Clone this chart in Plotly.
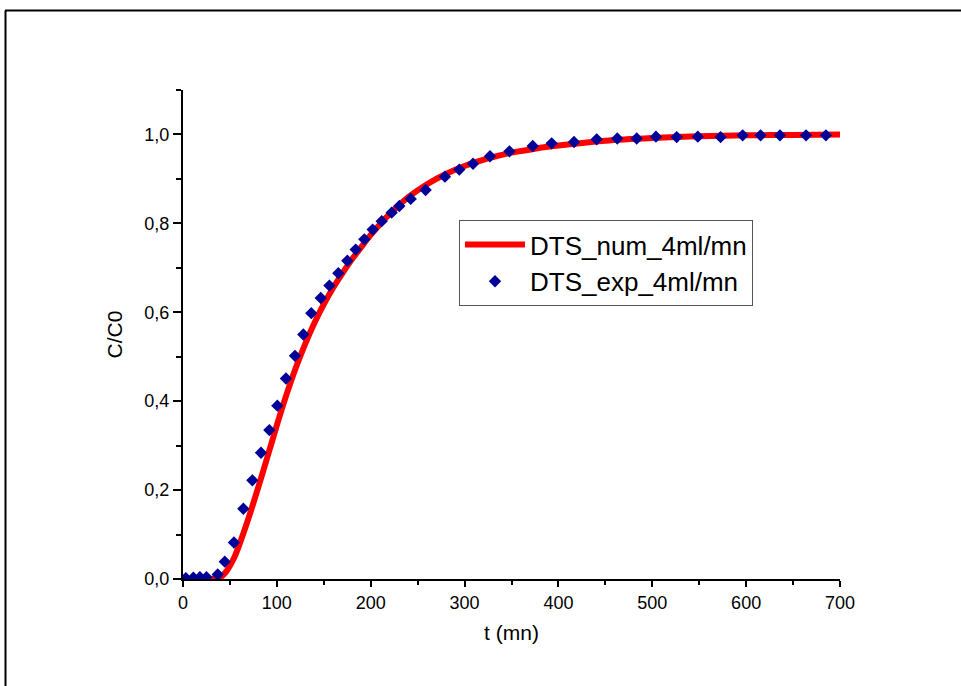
import plotly.graph_objects as go

# Numerical RTD curve
t_num = [30, 35, 40, 45, 50, 55, 60, 65, 70, 75, 80, 90, 100, 110, 120, 130, 140,
         150, 160, 170, 180, 190, 200, 220, 240, 260, 280, 300, 325, 350, 375,
         400, 450, 500, 550, 600, 650, 700]
c_num = [0.0, 0.001, 0.004, 0.014, 0.03, 0.05, 0.077, 0.107, 0.138, 0.171, 0.205,
         0.275, 0.346, 0.413, 0.474, 0.528, 0.576, 0.618, 0.655, 0.688, 0.719,
         0.747, 0.774, 0.821, 0.859, 0.888, 0.911, 0.929, 0.946, 0.959, 0.968,
         0.975, 0.986, 0.992, 0.996, 0.998, 0.999, 1.0]

t_exp = [3, 11, 18, 25, 37, 44.5, 54.3, 64.3, 73.9, 83.1, 92, 100.5, 109.7, 119.3,
         128.2, 136.7, 146.8, 156, 165.5, 175.1, 184, 193.2, 202.1, 211.7, 222.3,
         230.5, 242.6, 258.5, 279.1, 294.4, 309, 327.1, 347.8, 372.6, 392.8, 416.6,
         440.8, 462.7, 483.4, 503.9, 526, 548.5, 572.8, 596.3, 615.4, 636, 663.8, 685]
c_exp = [0.002, 0.003, 0.004, 0.004, 0.01, 0.039, 0.082, 0.158, 0.222, 0.284, 0.335,
         0.39, 0.451, 0.502, 0.55, 0.598, 0.632, 0.66, 0.688, 0.716, 0.741, 0.764,
         0.786, 0.805, 0.824, 0.839, 0.855, 0.875, 0.905, 0.921, 0.934, 0.951, 0.962,
         0.974, 0.98, 0.983, 0.989, 0.991, 0.991, 0.995, 0.994, 0.995, 0.994, 0.998,
         0.998, 0.998, 0.998, 0.998]

num_name = "DTS_num_4ml/mn"
exp_name = "DTS_exp_4ml/mn"
x_title = "t (mn)"
y_title = "C/C0"

sans = "Liberation Sans, Arial, sans-serif"

fig = go.Figure()
fig.add_trace(go.Scatter(x=t_num, y=c_num, mode="lines", name=num_name,
                         line=dict(color="#FF0000", width=6, shape="spline",
                                   smoothing=0.8)))
fig.add_trace(go.Scatter(x=t_exp, y=c_exp, mode="markers", name=exp_name,
                         marker=dict(symbol="diamond", size=9.5, color="#000099",
                                     line=dict(width=0))))

W, H = 961, 686
L, R, T, B = 183, 121, 90, 107
pw, ph = W - L - R, H - T - B

def px(xp):
    return (xp - L) / pw

def py(yp):
    return (H - B - yp) / ph

fig.update_layout(
    width=W, height=H,
    margin=dict(l=L, r=R, t=T, b=B),
    paper_bgcolor="white", plot_bgcolor="white",
    separators=", ",
    showlegend=True,
    legend=dict(x=px(459), y=py(220), xanchor="left", yanchor="top",
                bgcolor="white", bordercolor="#555555", borderwidth=1,
                font=dict(family=sans, size=26, color="black"),
                itemwidth=60),
    xaxis=dict(range=[0, 700], dtick=100, tick0=0, showgrid=False, zeroline=False,
               showline=True, linecolor="black", linewidth=2,
               ticks="outside", ticklen=6, tickwidth=2, tickcolor="black",
               minor=dict(dtick=50, ticks="outside", ticklen=4, tickwidth=2,
                          tickcolor="black", showgrid=False),
               tickfont=dict(family=sans, size=18, color="black"),
               title=dict(text=x_title, standoff=14,
                          font=dict(family=sans, size=21, color="black"))),
    yaxis=dict(range=[0, 1.1], dtick=0.2, tick0=0, showgrid=False, zeroline=False,
               showline=True, linecolor="black", linewidth=2, tickformat=".1f",
               ticks="outside", ticklen=8, tickwidth=2, tickcolor="black",
               minor=dict(dtick=0.1, ticks="outside", ticklen=5, tickwidth=2,
                          tickcolor="black", showgrid=False),
               tickfont=dict(family=sans, size=18, color="black"),
               title=dict(text=y_title, standoff=16,
                          font=dict(family=sans, size=21, color="black"))),
    shapes=[
        dict(type="line", xref="paper", yref="paper", x0=px(5), x1=px(975),
             y0=py(10.5), y1=py(10.5), line=dict(color="black", width=2)),
        dict(type="line", xref="paper", yref="paper", x0=px(5.5), x1=px(5.5),
             y0=py(10.5), y1=py(700), line=dict(color="black", width=2)),
    ],
)

fig.write_html("out.html")
